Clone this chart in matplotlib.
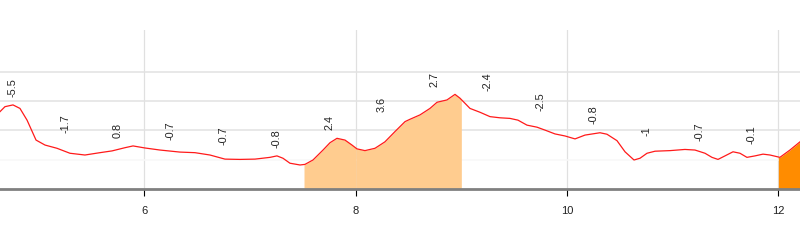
import matplotlib
matplotlib.use('agg')
import matplotlib.pyplot as plt
import numpy as np

# elevation profile (km, relative height)
km = [4.634, 4.681, 4.757, 4.823, 4.890, 4.975, 5.060, 5.173, 5.296, 5.438,
      5.580, 5.694, 5.817, 5.893, 6.006, 6.148, 6.337, 6.479, 6.621, 6.763,
      6.905, 7.047, 7.189, 7.255, 7.312, 7.378, 7.473, 7.520, 7.596, 7.691,
      7.757, 7.823, 7.899, 7.965, 8.012, 8.088, 8.183, 8.277, 8.372, 8.467,
      8.514, 8.609, 8.703, 8.770, 8.864, 8.940, 8.987, 9.082, 9.176, 9.271,
      9.366, 9.460, 9.536, 9.621, 9.716, 9.792, 9.886, 9.981, 10.076, 10.170,
      10.312, 10.378, 10.473, 10.549, 10.634, 10.691, 10.757, 10.833, 10.975, 11.116,
      11.211, 11.306, 11.372, 11.429, 11.495, 11.571, 11.637, 11.703, 11.779, 11.855,
      11.921, 12.015, 12.110, 12.205]
elev = [26.4, 28.1, 28.7, 27.5, 23.5, 16.7, 15.0, 13.9, 12.2, 11.6,
        12.4, 13.0, 14.1, 14.7, 14.0, 13.3, 12.6, 12.4, 11.6, 10.2,
        10.1, 10.2, 10.8, 11.3, 10.5, 8.8, 8.2, 8.4, 9.9, 13.3,
        15.8, 17.3, 16.7, 15.0, 13.7, 13.1, 13.9, 16.1, 19.6, 23.0,
        23.8, 25.3, 27.5, 29.6, 30.4, 32.3, 31.0, 27.5, 26.2, 24.7,
        24.3, 24.1, 23.5, 21.8, 21.1, 20.1, 18.8, 18.1, 17.1, 18.4,
        19.2, 18.7, 16.5, 12.7, 9.9, 10.5, 12.2, 12.9, 13.1, 13.5,
        13.3, 12.2, 10.8, 10.1, 11.3, 12.7, 12.2, 10.8, 11.3, 11.9,
        11.6, 10.8, 13.3, 16.1]

# gradient (%) per half-km segment
seg_start = [4.5, 5.0, 5.5, 6.0, 6.5, 7.0, 7.5, 8.0, 8.5, 9.0, 9.5, 10.0, 10.5, 11.0, 11.5, 12.0]
grades = [-5.5, -1.7, 0.8, -0.7, -0.7, -0.8, 2.4, 3.6, 2.7, -2.4, -2.5, -0.8, -1, -0.7, -0.1, 4.6]
grade_labels = ['-5.5', '-1.7', '0.8', '-0.7', '-0.7', '-0.8', '2.4', '3.6', '2.7', '-2.4',
                '-2.5', '-0.8', '-1', '-0.7', '-0.1', '4.6']
seg_len = 0.5

plt.rcParams['font.family'] = ['Liberation Sans', 'DejaVu Sans']

fig = plt.figure(figsize=(8, 2.4), dpi=100)
ax = fig.add_axes([0, 0.2125, 1, 0.6625])

x = np.array(km)
y = np.array(elev)

# fill steep segments
for s, g in zip(seg_start, grades):
    if g < 2:
        continue
    color = '#ffcc8f' if g < 4 else '#ff8c00'
    xs = np.linspace(max(s, 7.511), s + seg_len, 60)
    ys = np.interp(xs, x, y)
    ax.fill_between(xs, 0, ys, color=color, lw=0, zorder=2)

ax.plot(x, y, color='#ff1a1a', lw=0.9, zorder=3)

# grade labels
for s, lab in zip(seg_start, grade_labels):
    xs = np.linspace(s, s + seg_len, 30)
    top = np.interp(xs, x, y).max()
    ax.annotate(lab, (s + seg_len / 2, top), xytext=(0, 6), textcoords='offset points',
                rotation=90, ha='center', va='bottom', fontsize=7.8, color='#222222',
                annotation_clip=True, clip_on=True, zorder=4)

ax.set_xlim(4.634, 12.205)
ax.set_ylim(0, 54.27)
ax.set_xticks([6, 8, 10, 12])
ax.set_yticks([])

for v in [6, 8, 10, 12]:
    ax.axvline(v, color='#e0e0e0', lw=0.9, zorder=1)
for h, c in [(10, '#f8f8f8'), (20, '#e2e2e2'), (30, '#e2e2e2'), (40, '#e2e2e2')]:
    ax.axhline(h, color=c, lw=1.1, zorder=1)

for sp in ['top', 'left', 'right']:
    ax.spines[sp].set_visible(False)
ax.spines['bottom'].set_color('#808080')
ax.spines['bottom'].set_linewidth(2)
ax.spines['bottom'].set_zorder(5)
ax.tick_params(axis='x', direction='out', length=5, width=0.8, color='black',
               labelsize=8, pad=7, labelcolor='#222222')

plt.savefig('out.png', dpi=100)
